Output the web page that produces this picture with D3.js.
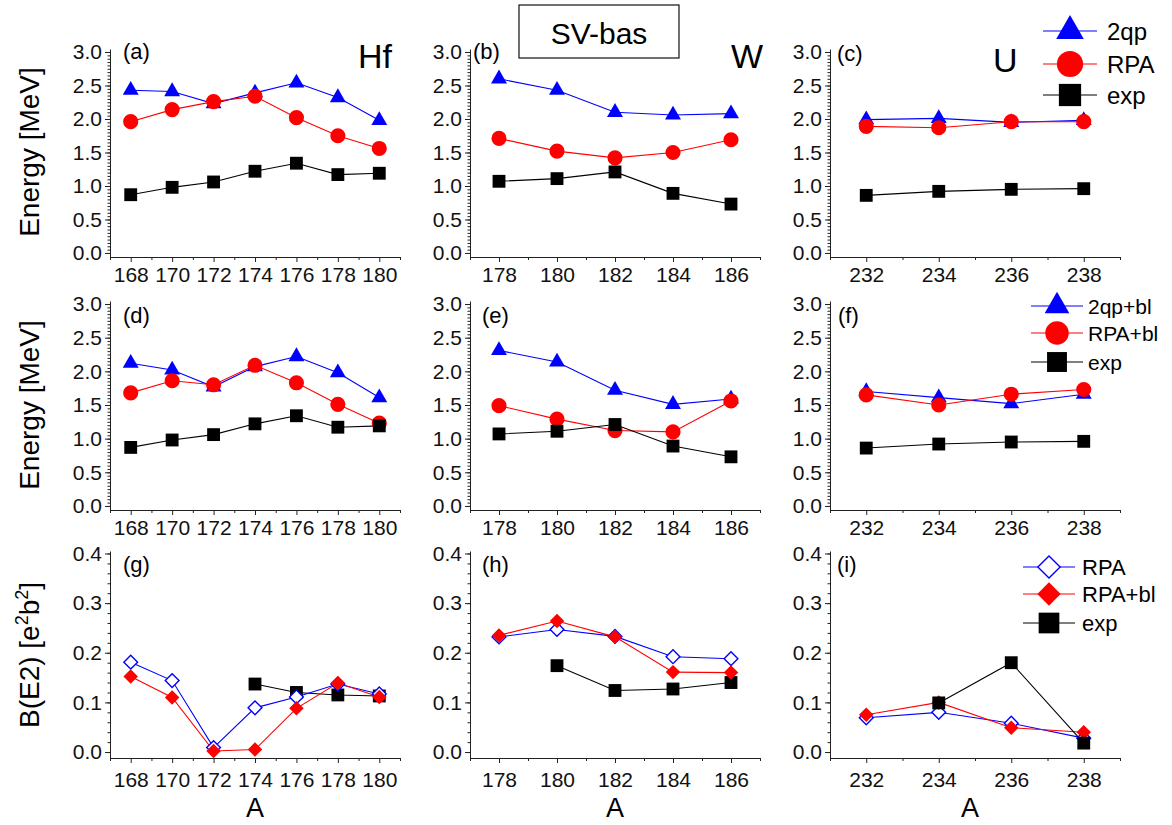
<!DOCTYPE html>
<html>
<head>
<meta charset="utf-8">
<script src="https://cdn.jsdelivr.net/npm/d3@7"></script>
<style>
  body { margin: 0; background: #fff; }
  text { font-family: "Liberation Sans", Arial, sans-serif; }
</style>
</head>
<body>
<script>
// mass numbers
const hfA = [168, 170, 172, 174, 176, 178, 180];
const wA = [178, 180, 182, 184, 186];
const uA = [232, 234, 236, 238];

// row 1: energies [MeV]
const hf2qp = [2.43, 2.41, 2.23, 2.39, 2.54, 2.32, 1.98];
const hfRPA = [1.96, 2.14, 2.26, 2.34, 2.02, 1.75, 1.56];
const hfExp = [0.87, 0.98, 1.06, 1.22, 1.34, 1.17, 1.19];
const w2qp = [2.60, 2.43, 2.10, 2.06, 2.08];
const wRPA = [1.71, 1.52, 1.42, 1.50, 1.69];
const wExp = [1.07, 1.11, 1.21, 0.89, 0.73];
const u2qp = [1.99, 2.01, 1.95, 1.98];
const uRPA = [1.89, 1.87, 1.96, 1.96];
const uExp = [0.86, 0.92, 0.95, 0.96];

// row 2: energies with blocking
const hf2qpBl = [2.12, 2.02, 1.77, 2.07, 2.22, 1.98, 1.61];
const hfRPABl = [1.68, 1.86, 1.80, 2.09, 1.83, 1.51, 1.23];
const w2qpBl = [2.31, 2.14, 1.72, 1.51, 1.59];
const wRPABl = [1.49, 1.29, 1.12, 1.10, 1.56];
const u2qpBl = [1.70, 1.61, 1.52, 1.66];
const uRPABl = [1.65, 1.50, 1.66, 1.73];

// row 3: B(E2) [e^2 b^2]
const hfBE2RPA = [0.181, 0.144, 0.009, 0.089, 0.111, 0.137, 0.117];
const hfBE2RPABl = [0.152, 0.110, 0.002, 0.005, 0.088, 0.139, 0.111];
const hfBE2Exp = [null, null, null, 0.137, 0.120, 0.115, 0.113];
const wBE2RPA = [0.232, 0.247, 0.233, 0.192, 0.188];
const wBE2RPABl = [0.235, 0.264, 0.232, 0.161, 0.160];
const wBE2Exp = [null, 0.174, 0.124, 0.127, 0.140];
const uBE2RPA = [0.069, 0.080, 0.058, 0.028];
const uBE2RPABl = [0.075, 0.100, 0.049, 0.040];
const uBE2Exp = [null, 0.099, 0.180, 0.018];

const energyTicks = [0, 0.5, 1.0, 1.5, 2.0, 2.5, 3.0];
const be2Ticks = [0, 0.1, 0.2, 0.3, 0.4];

const width = 1172, height = 825;
const svg = d3.select('body').append('svg')
  .attr('width', width).attr('height', height);

const cols = [
  { left: 110, dom: [167, 181], A: hfA },
  { left: 470, dom: [177, 187], A: wA },
  { left: 830, dom: [231, 239], A: uA }
];
const colW = 290;
const rows = [
  { top: 49, bottom: 257, dom: [-0.06, 3.045], ticks: energyTicks, minor: 0.05, pad: 5 },
  { top: 301, bottom: 510, dom: [-0.06, 3.045], ticks: energyTicks, minor: 0.05, pad: 5 },
  { top: 551, bottom: 758, dom: [-0.012, 0.405], ticks: be2Ticks, minor: 0.02, pad: 9 }
];

const blue = '#0000ff', red = '#ff0000', black = '#000000';

// marker drawing
function marker(g, kind, size, color, x, y) {
  let type = d3.symbolCircle, rot = 0, fill = color, stroke = 'none';
  if (kind === 'tri') type = d3.symbolTriangle;
  if (kind === 'sq') type = d3.symbolSquare;
  if (kind === 'dia' || kind === 'odia') { type = d3.symbolSquare; rot = 45; }
  if (kind === 'odia') { fill = '#fff'; stroke = color; }
  g.append('path')
    .attr('d', d3.symbol().type(type).size(size)())
    .attr('transform', `translate(${x},${y}) rotate(${rot})`)
    .attr('fill', fill)
    .attr('stroke', stroke)
    .attr('stroke-width', 1.4);
}

const sizes = { tri: 110, circ: 180, sq: 165, dia: 105, odia: 95 };

function panel(ci, ri, series, label, labelPos) {
  const c = cols[ci], r = rows[ri];
  const x = d3.scaleLinear().domain(c.dom).range([c.left, c.left + colW]);
  const y = d3.scaleLinear().domain(r.dom).range([r.bottom, r.top]);
  const g = svg.append('g');

  // minor ticks
  const yMinor = d3.range(0, r.ticks[r.ticks.length - 1] + 1e-9, r.minor);
  g.append('g').attr('transform', `translate(${c.left},0)`)
    .call(d3.axisLeft(y).tickValues(yMinor).tickSize(2.5).tickSizeOuter(0).tickFormat(''))
    .call(a => a.select('.domain').remove());
  const xMinor = d3.range(c.dom[0], c.dom[1] + 1, 1).filter(v => v % 2 !== 0);
  g.append('g').attr('transform', `translate(0,${r.bottom})`)
    .call(d3.axisBottom(x).tickValues(xMinor).tickSize(3).tickSizeOuter(0).tickFormat(''))
    .call(a => a.select('.domain').remove());

  // major axes
  const yAx = g.append('g').attr('transform', `translate(${c.left},0)`)
    .call(d3.axisLeft(y).tickValues(r.ticks).tickSize(5).tickSizeOuter(0).tickPadding(3)
      .tickFormat(d3.format('.1f')));
  const xAx = g.append('g').attr('transform', `translate(0,${r.bottom})`)
    .call(d3.axisBottom(x).tickValues(c.A).tickSize(5).tickSizeOuter(0).tickPadding(r.pad)
      .tickFormat(d3.format('d')));
  [yAx, xAx].forEach(a => {
    a.selectAll('text').attr('fill', '#111')
      .style('font-size', '21px')
      .style('font-family', '"Liberation Sans", Arial, sans-serif');
  });
  g.selectAll('.domain, .tick line').attr('stroke', '#222').attr('stroke-width', 1);

  // series lines then markers
  series.forEach(s => {
    const pts = c.A.map((a, i) => ({ a, v: s.vals[i] })).filter(p => p.v != null);
    g.append('path')
      .attr('d', d3.line().x(p => x(p.a)).y(p => y(p.v))(pts))
      .attr('fill', 'none').attr('stroke', s.color).attr('stroke-width', 1.1);
  });
  series.forEach(s => {
    c.A.forEach((a, i) => {
      if (s.vals[i] == null) return;
      marker(g, s.kind, sizes[s.kind], s.color, x(a), y(s.vals[i]));
    });
  });

  g.append('text').attr('x', labelPos[0]).attr('y', labelPos[1])
    .attr('font-size', 22).text(label);
}

panel(0, 0, [
  { vals: hf2qp, kind: 'tri', color: blue },
  { vals: hfRPA, kind: 'circ', color: red },
  { vals: hfExp, kind: 'sq', color: black }], '(a)', [123, 59]);
panel(1, 0, [
  { vals: w2qp, kind: 'tri', color: blue },
  { vals: wRPA, kind: 'circ', color: red },
  { vals: wExp, kind: 'sq', color: black }], '(b)', [473, 59]);
panel(2, 0, [
  { vals: u2qp, kind: 'tri', color: blue },
  { vals: uRPA, kind: 'circ', color: red },
  { vals: uExp, kind: 'sq', color: black }], '(c)', [837, 61]);

panel(0, 1, [
  { vals: hf2qpBl, kind: 'tri', color: blue },
  { vals: hfRPABl, kind: 'circ', color: red },
  { vals: hfExp, kind: 'sq', color: black }], '(d)', [123, 323]);
panel(1, 1, [
  { vals: w2qpBl, kind: 'tri', color: blue },
  { vals: wRPABl, kind: 'circ', color: red },
  { vals: wExp, kind: 'sq', color: black }], '(e)', [482, 323]);
panel(2, 1, [
  { vals: u2qpBl, kind: 'tri', color: blue },
  { vals: uRPABl, kind: 'circ', color: red },
  { vals: uExp, kind: 'sq', color: black }], '(f)', [838, 323]);

panel(0, 2, [
  { vals: hfBE2Exp, kind: 'sq', color: black },
  { vals: hfBE2RPA, kind: 'odia', color: blue },
  { vals: hfBE2RPABl, kind: 'dia', color: red }], '(g)', [123, 572]);
panel(1, 2, [
  { vals: wBE2Exp, kind: 'sq', color: black },
  { vals: wBE2RPA, kind: 'odia', color: blue },
  { vals: wBE2RPABl, kind: 'dia', color: red }], '(h)', [482, 572]);
panel(2, 2, [
  { vals: uBE2RPA, kind: 'odia', color: blue },
  { vals: uBE2RPABl, kind: 'dia', color: red },
  { vals: uBE2Exp, kind: 'sq', color: black }], '(i)', [837, 572]);

// element labels
svg.append('text').attr('x', 358).attr('y', 68).attr('font-size', 34).text('Hf');
svg.append('text').attr('x', 731).attr('y', 68).attr('font-size', 34).text('W');
svg.append('text').attr('x', 993).attr('y', 72).attr('font-size', 34).text('U');

// title box
svg.append('rect').attr('x', 519).attr('y', 5).attr('width', 160).attr('height', 53)
  .attr('fill', '#fff').attr('stroke', '#111').attr('stroke-width', 1.2);
svg.append('text').attr('x', 599).attr('y', 44).attr('text-anchor', 'middle')
  .attr('font-size', 30).text('SV-bas');

// axis titles
function yTitle(cy, parts) {
  const t = svg.append('text')
    .attr('transform', `translate(39,${cy}) rotate(-90)`)
    .attr('text-anchor', 'middle').attr('font-size', 28);
  parts.forEach(p => {
    const s = t.append('tspan').text(p.t);
    if (p.sup) s.attr('font-size', 18).attr('dy', -11);
    if (p.down) s.attr('dy', 11);
  });
}
yTitle(152, [{ t: 'Energy [MeV]' }]);
yTitle(405, [{ t: 'Energy [MeV]' }]);
yTitle(655, [{ t: 'B(E2) [e' }, { t: '2', sup: true }, { t: 'b', down: true },
  { t: '2', sup: true }, { t: ']', down: true }]);

[255, 615, 970].forEach(cx => {
  svg.append('text').attr('x', cx).attr('y', 817).attr('text-anchor', 'middle')
    .attr('font-size', 27).text('A');
});

// legends
function legend(x0, x1, xt, ys, items, font, scale) {
  items.forEach((it, i) => {
    const g = svg.append('g');
    g.append('line').attr('x1', x0).attr('x2', x1).attr('y1', ys[i]).attr('y2', ys[i])
      .attr('stroke', it.color).attr('stroke-width', 1.1);
    marker(g, it.kind, sizes[it.kind] * scale, it.color, (x0 + x1) / 2, ys[i]);
    g.append('text').attr('x', xt).attr('y', ys[i]).attr('dy', '0.36em')
      .attr('font-size', font).text(it.name);
  });
}
legend(1043, 1097, 1107, [31, 64, 95], [
  { name: '2qp', kind: 'tri', color: blue },
  { name: 'RPA', kind: 'circ', color: red },
  { name: 'exp', kind: 'sq', color: black }], 24, 3.0);
legend(1031, 1083, 1088, [306, 333, 362], [
  { name: '2qp+bl', kind: 'tri', color: blue },
  { name: 'RPA+bl', kind: 'circ', color: red },
  { name: 'exp', kind: 'sq', color: black }], 21, 2.4);
legend(1023, 1075, 1082, [567, 594, 623], [
  { name: 'RPA', kind: 'odia', color: blue },
  { name: 'RPA+bl', kind: 'dia', color: red },
  { name: 'exp', kind: 'sq', color: black }], 22, 2.6);
</script>
</body>
</html>
